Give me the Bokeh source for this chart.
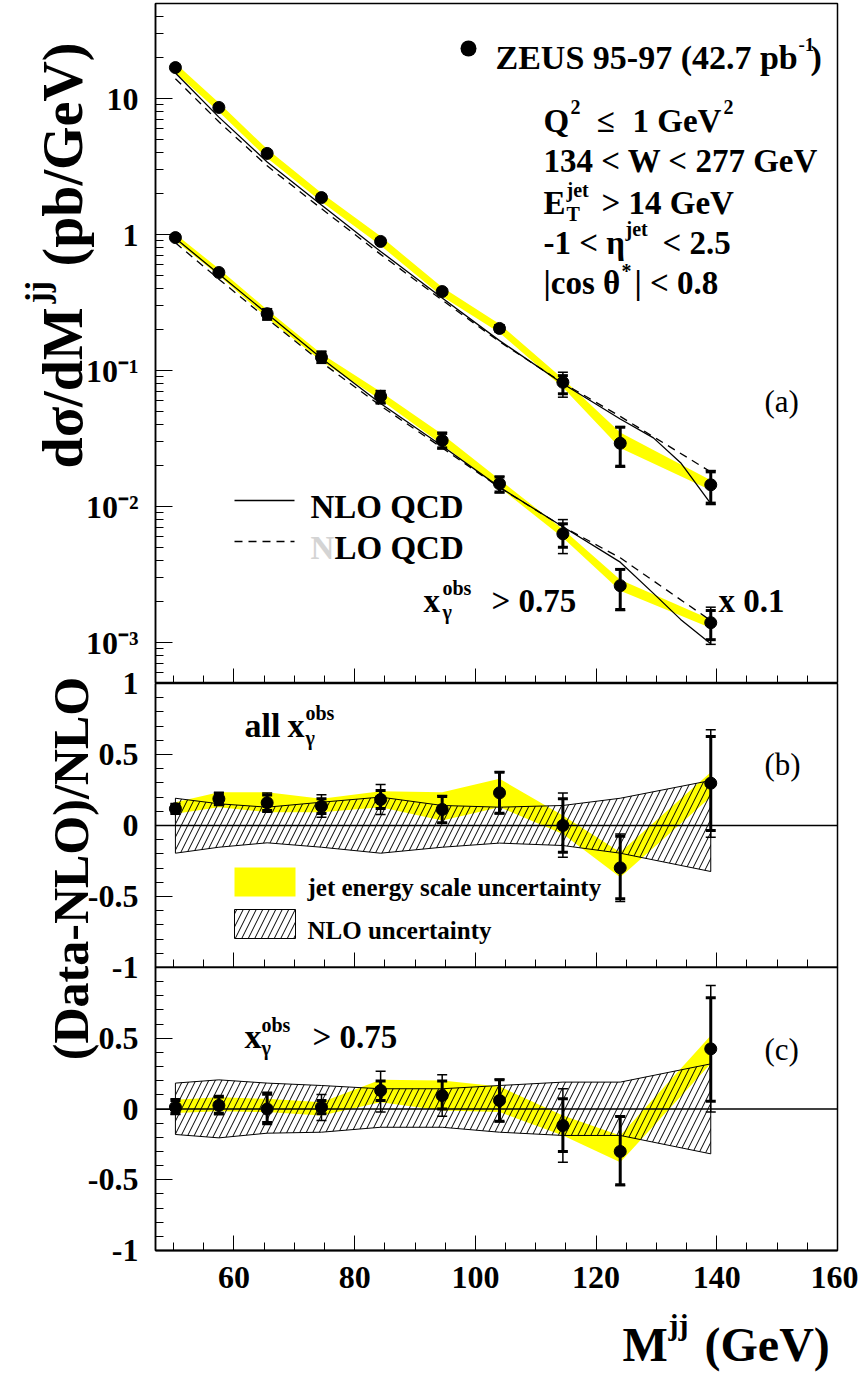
import math
from bokeh.plotting import figure
from bokeh.models import Range1d, FixedTicker, Label, Span, BoxAnnotation, Arrow
from bokeh.layouts import column
from bokeh.embed import file_html
from bokeh.resources import INLINE

# ---------------- data ----------------
mjj = [50.3, 57.5, 65.5, 74.5, 84.3, 94.5, 104.0, 114.5, 124.0, 139.0]

# (a) all x_gamma^obs  [pb/GeV]
sig_all     = [16.9, 8.6, 3.95, 1.87, 0.89, 0.381, 0.204, 0.082, 0.0292, 0.01445]
sig_all_slo = [16.5, 8.35, 3.83, 1.81, 0.86, 0.365, 0.195, 0.0675, 0.0198, 0.0106]
sig_all_shi = [17.3, 8.85, 4.07, 1.93, 0.92, 0.397, 0.214, 0.0918, 0.0383, 0.0180]
sig_all_tlo = [16.4, 8.3, 3.80, 1.80, 0.855, 0.362, 0.193, 0.0637, 0.0195, 0.01035]
sig_all_thi = [17.4, 8.9, 4.10, 1.94, 0.925, 0.400, 0.217, 0.0972, 0.0387, 0.0184]
jes_all_lo  = [15.5, 8.0, 3.65, 1.74, 0.83, 0.350, 0.190, 0.075, 0.027, 0.0132]
jes_all_hi  = [18.2, 9.3, 4.25, 2.02, 0.97, 0.410, 0.220, 0.087, 0.035, 0.0156]

# (a) x_gamma^obs > 0.75  (x 0.1)
sig_dir     = [0.95, 0.526, 0.262, 0.125, 0.0647, 0.0306, 0.0147, 0.0063, 0.00262, 0.0014]
sig_dir_slo = [0.925, 0.51, 0.240, 0.115, 0.058, 0.0270, 0.0128, 0.00502, 0.00175, 0.00105]
sig_dir_shi = [0.975, 0.543, 0.280, 0.136, 0.070, 0.0345, 0.0165, 0.00747, 0.00345, 0.00172]
sig_dir_tlo = [0.92, 0.505, 0.235, 0.113, 0.057, 0.0265, 0.0126, 0.00451, 0.00172, 0.00097]
sig_dir_thi = [0.98, 0.548, 0.285, 0.139, 0.0713, 0.0352, 0.0167, 0.00802, 0.00348, 0.00182]
jes_dir_lo  = [0.90, 0.50, 0.245, 0.117, 0.061, 0.0285, 0.0138, 0.0059, 0.0024, 0.00128]
jes_dir_hi  = [1.01, 0.56, 0.280, 0.133, 0.070, 0.0340, 0.0158, 0.0068, 0.0029, 0.00148]

# NLO QCD curves (solid) and second curve (dashed)
mjj_nlo = [50.3, 57.5, 65.5, 74.5, 84.3, 94.5, 104.0, 114.5, 124.0, 129.5, 134.0, 139.0]
nlo_all = [15.4, 7.3, 3.42, 1.65, 0.752, 0.342, 0.166, 0.080, 0.044, 0.032, 0.021, 0.0105]
nlo_dir = [0.938, 0.513, 0.262, 0.123, 0.0572, 0.0279, 0.0139, 0.0071, 0.0039, 0.0023, 0.00148, 0.00098]
alt_all = [14.0, 6.75, 3.2, 1.55, 0.715, 0.33, 0.163, 0.081, 0.046, 0.018]
alt_dir = [0.87, 0.47, 0.24, 0.115, 0.055, 0.027, 0.0138, 0.0071, 0.0042, 0.00145]

# (b) (Data-NLO)/NLO, all x_gamma^obs
rb     = [0.118, 0.188, 0.160, 0.136, 0.183, 0.113, 0.230, 0.0, -0.298, 0.298]
rb_slo = [0.09, 0.15, 0.105, 0.085, 0.12, 0.02, 0.087, -0.188, -0.516, -0.035]
rb_shi = [0.145, 0.226, 0.215, 0.188, 0.246, 0.205, 0.375, 0.188, -0.075, 0.627]
rb_tlo = [0.08, 0.141, 0.094, 0.058, 0.077, 0.016, 0.083, -0.223, -0.535, -0.082]
rb_thi = [0.155, 0.235, 0.228, 0.216, 0.289, 0.211, 0.378, 0.228, -0.059, 0.674]
rb_jlo = [0.082, 0.129, 0.094, 0.094, 0.129, 0.035, 0.129, -0.059, -0.364, 0.200]
rb_jhi = [0.164, 0.235, 0.235, 0.188, 0.242, 0.235, 0.329, 0.070, -0.188, 0.375]
rb_nlo_lo = [-0.195, -0.153, -0.122, -0.153, -0.195, -0.153, -0.124, -0.141, -0.195, -0.324]
rb_nlo_hi = [0.192, 0.153, 0.129, 0.164, 0.200, 0.141, 0.129, 0.141, 0.192, 0.317]

# (c) (Data-NLO)/NLO, x_gamma^obs > 0.75
rc     = [0.013, 0.025, 0.0, 0.013, 0.131, 0.095, 0.060, -0.117, -0.300, 0.425]
rc_slo = [-0.03, -0.03, -0.095, -0.034, 0.06, 0.0, -0.086, -0.30, -0.536, 0.055]
rc_shi = [0.06, 0.085, 0.105, 0.06, 0.197, 0.197, 0.206, 0.072, -0.053, 0.786]
rc_tlo = [-0.039, -0.041, -0.11, -0.081, -0.022, -0.051, -0.09, -0.376, -0.54, -0.022]
rc_thi = [0.072, 0.095, 0.119, 0.102, 0.267, 0.242, 0.21, 0.143, -0.05, 0.873]
rc_jlo = [-0.029, -0.016, -0.022, -0.046, 0.048, -0.011, -0.022, -0.187, -0.376, 0.319]
rc_jhi = [0.065, 0.083, 0.072, 0.048, 0.206, 0.201, 0.159, -0.046, -0.187, 0.519]
rc_nlo_lo = [-0.18, -0.204, -0.171, -0.164, -0.129, -0.129, -0.164, -0.187, -0.187, -0.317]
rc_nlo_hi = [0.183, 0.206, 0.183, 0.166, 0.143, 0.143, 0.166, 0.19, 0.19, 0.319]

# tick labels
x_ticks = [60, 80, 100, 120, 140, 160]
ya_ticks = [10, 1, 0.1, 0.01, 0.001]
ya_labels = ["10", "1", "10\u207b\u00b9", "10\u207b\u00b2", "10\u207b\u00b3"]
rb_ticks = [-1, -0.5, 0, 0.5, 1]
rb_labels = ["-1", "-0.5", "0", "0.5", "1"]
rc_ticks = [-1, -0.5, 0, 0.5]
rc_labels = ["-1", "-0.5", "0", "0.5"]

# ---------------- layout geometry (page pixels) ----------------
PAGE_W, PAGE_H = 862, 1380
FL, FR = 155, 837
AT, AB = 3, 683
BT, BB = 683, 967
CT, CB = 967, 1250
XMIN, XMAX = 47.0, 160.0
YA_MIN, YA_MAX = 5e-4, 50.0
LA_BOT, LA_TOP = math.log10(YA_MIN), math.log10(YA_MAX)
FONT = "Liberation Serif"
YELLOW = "#ffff00"
DASH = "8 6"
BPAD = 24      # extra canvas above/below panel (b) for its edge tick labels
CBOT = PAGE_H - CB


def xd(px):
    return XMIN + (px - FL) * (XMAX - XMIN) / (FR - FL)


def ya(py):
    return 10 ** (LA_TOP - (py - AT) * (LA_TOP - LA_BOT) / (AB - AT))


def yb(py):
    return 1 - (py - BT) * 2.0 / (BB - BT)


def yc(py):
    return 1 - (py - CT) * 2.0 / (CB - CT)


def yo(py):          # text layer: plain page pixels, y measured upward
    return PAGE_H - py


def ident(px):
    return px


def lab(fig, text, px, py, yconv, size, bold=True, align="left", angle=0.0,
        color="black", xconv=xd):
    fig.add_layout(Label(x=xconv(px), y=yconv(py), text=text, text_font=FONT,
                         text_font_style="bold" if bold else "normal",
                         text_font_size=f"{size}px", text_align=align,
                         text_baseline="alphabetic", angle=angle, text_color=color))


xr = Range1d(XMIN, XMAX)
x_minor = [v for v in range(50, 160, 5) if v not in x_ticks]


def make_fig(**kw):
    p = figure(x_range=xr, output_backend="svg", toolbar_location=None,
               frame_width=FR - FL, min_border_left=FL, min_border_right=21, **kw)
    p.grid.visible = False
    p.outline_line_color = "black"
    p.outline_line_width = 1.5
    p.background_fill_color = "white"
    for ax in list(p.xaxis) + list(p.yaxis):
        ax.major_tick_out = 0
        ax.minor_tick_out = 0
        ax.axis_line_color = "black"
        ax.major_tick_line_color = "black"
        ax.minor_tick_line_color = "black"
        ax.major_tick_line_width = 1
        ax.minor_tick_line_width = 1
        ax.major_label_text_font = FONT
        ax.major_label_text_font_style = "bold"
        ax.major_label_text_font_size = "32px"
        ax.major_label_text_color = "black"
    for ax in p.xaxis:
        ax.ticker = FixedTicker(ticks=x_ticks, minor_ticks=x_minor)
        ax.major_tick_in = 15
        ax.minor_tick_in = 8
        ax.axis_line_width = 2
    for ax in p.yaxis:
        ax.major_tick_in = 17
        ax.minor_tick_in = 8
        ax.axis_line_width = 1.5
        ax.major_label_standoff = 17
    return p


def hide_labels(axes):
    for ax in axes:
        ax.major_label_text_font_size = "1px"
        ax.major_label_text_color = None
        ax.major_label_standoff = 0


def errors(p, y, slo, shi, tlo, thi, size=12):
    p.segment(x0=mjj, y0=tlo, x1=mjj, y1=thi, line_color="black", line_width=1.5)
    p.scatter(x=mjj, y=tlo, marker="dash", size=10, line_color="black", line_width=1.5)
    p.scatter(x=mjj, y=thi, marker="dash", size=10, line_color="black", line_width=1.5)
    p.segment(x0=mjj, y0=slo, x1=mjj, y1=shi, line_color="black", line_width=3)
    p.scatter(x=mjj, y=slo, marker="dash", size=10, line_color="black", line_width=3)
    p.scatter(x=mjj, y=shi, marker="dash", size=10, line_color="black", line_width=3)
    p.scatter(x=mjj, y=y, marker="circle", size=size, fill_color="black", line_color="black")


# ---------------- transparent text layer (page pixels) for the axis titles ----------------
ov = figure(frame_width=PAGE_W, frame_height=PAGE_H, x_range=Range1d(0, PAGE_W),
            y_range=Range1d(0, PAGE_H), output_backend="svg", toolbar_location=None,
            title=None, min_border=0, min_border_left=0, min_border_right=0,
            min_border_top=0, min_border_bottom=0,
            x_axis_location=None, y_axis_location=None,
            margin=(0, 0, -PAGE_H, 0), border_fill_color=None,
            background_fill_color=None, outline_line_color=None)
ov.grid.visible = False
if "frame_align" in ov.properties():
    ov.frame_align = False

UP = math.pi / 2
lab(ov, "dσ/dM", 62, 468, yo, 56, angle=UP, xconv=ident)
lab(ov, "jj", 37, 303, yo, 34, angle=UP, xconv=ident)
lab(ov, "(pb/GeV)", 62, 266, yo, 56, angle=UP, xconv=ident)
lab(ov, "(Data-NLO)/NLO", 70, 868, yo, 50, angle=UP, align="center", xconv=ident)
lab(ov, "M", 622, 1344, yo, 48, xconv=ident)
lab(ov, "jj", 668, 1324, yo, 30, xconv=ident)
lab(ov, "(GeV)", 704, 1344, yo, 48, xconv=ident)

# ---------------- panel (a) ----------------
pa = make_fig(y_range=Range1d(YA_MIN, YA_MAX), y_axis_type="log",
              frame_height=AB - AT, min_border_top=AT, min_border_bottom=0,
              border_fill_color=None)
hide_labels(pa.xaxis)
ya_minor = [m * 10 ** e for e in range(-4, 2) for m in range(2, 10)
            if YA_MIN < m * 10 ** e < YA_MAX]
pa.yaxis.ticker = FixedTicker(ticks=ya_ticks, minor_ticks=ya_minor)
pa.yaxis.major_label_overrides = dict(zip(ya_ticks, ya_labels))

pa.varea(x=mjj, y1=jes_all_lo, y2=jes_all_hi, fill_color=YELLOW)
pa.varea(x=mjj, y1=jes_dir_lo, y2=jes_dir_hi, fill_color=YELLOW)
pa.line(mjj_nlo, nlo_all, line_color="black", line_width=1.3)
pa.line(mjj_nlo, nlo_dir, line_color="black", line_width=1.3)
pa.line(mjj, alt_all, line_color="black", line_width=1.3, line_dash=DASH)
pa.line(mjj, alt_dir, line_color="black", line_width=1.3, line_dash=DASH)
errors(pa, sig_all, sig_all_slo, sig_all_shi, sig_all_tlo, sig_all_thi)
errors(pa, sig_dir, sig_dir_slo, sig_dir_shi, sig_dir_tlo, sig_dir_thi)

# legend / info text (a)
pa.add_layout(BoxAnnotation(left=xd(460), right=xd(476), top=ya(40), bottom=ya(56),
                            fill_color="black", fill_alpha=1, line_color=None,
                            border_radius=8))
lab(pa, "ZEUS 95-97 (42.7 pb", 495, 57, ya, 34)
lab(pa, "-1", 798, 44, ya, 19)
lab(pa, ")", 810, 57, ya, 34)
lab(pa, "Q", 543, 120, ya, 33)
lab(pa, "2", 570, 106, ya, 20)
lab(pa, "≤", 596, 120, ya, 33)
lab(pa, "1 GeV", 632, 120, ya, 33)
lab(pa, "2", 723, 106, ya, 20)
lab(pa, "134 < W < 277 GeV", 543, 160, ya, 33)
lab(pa, "E", 543, 202, ya, 33)
lab(pa, "jet", 566, 189, ya, 20)
lab(pa, "T", 566, 213, ya, 20)
lab(pa, "> 14 GeV", 601, 202, ya, 33)
lab(pa, "-1 < η", 543, 242, ya, 33)
lab(pa, "jet", 625, 228, ya, 20)
lab(pa, "<  2.5", 662, 242, ya, 33)
lab(pa, "|cos θ", 543, 282, ya, 33)
lab(pa, "*", 621, 270, ya, 20)
lab(pa, "| < 0.8", 634, 282, ya, 33)
lab(pa, "(a)", 764, 401, ya, 31, bold=False)

pa.add_layout(Arrow(end=None, x_start=xd(234), y_start=ya(500), x_end=xd(294), y_end=ya(500),
                    line_color="black", line_width=1.5))
lab(pa, "NLO QCD", 310, 506, ya, 33)
pa.add_layout(Arrow(end=None, x_start=xd(234), y_start=ya(541), x_end=xd(294), y_end=ya(541),
                    line_color="black", line_width=1.5, line_dash=DASH))
lab(pa, "N", 310, 547, ya, 33, color="#d4d4d4")
lab(pa, "LO QCD", 334, 547, ya, 33)

lab(pa, "x", 423, 600, ya, 33)
lab(pa, "obs", 442, 587, ya, 20)
lab(pa, "γ", 442, 611, ya, 20)
lab(pa, "> 0.75", 491, 600, ya, 33)
lab(pa, "x 0.1", 718, 600, ya, 33)

# ---------------- panel (b) ----------------
pb = make_fig(y_range=Range1d(-1, 1), frame_height=BB - BT, min_border_top=BPAD,
              min_border_bottom=BPAD, margin=(-BPAD, 0, 0, 0), border_fill_color=None)
hide_labels(pb.xaxis)
r_minor = [round(-1 + 0.1 * i, 1) for i in range(21)]


def ratio_axes(p, ticks, labels):
    p.yaxis.ticker = FixedTicker(ticks=ticks, minor_ticks=r_minor)
    p.yaxis.major_label_overrides = dict(zip(ticks, labels))


def ratio_panel(p, r, slo, shi, tlo, thi, jlo, jhi, nlo_lo, nlo_hi):
    p.varea(x=mjj, y1=jlo, y2=jhi, fill_color=YELLOW)
    p.patch(x=mjj + mjj[::-1], y=nlo_hi + nlo_lo[::-1], fill_color=None,
            hatch_pattern="/", hatch_color="black", hatch_scale=13, hatch_weight=1,
            line_color="black", line_width=1)
    p.add_layout(Span(location=0, dimension="width", line_color="black", line_width=1.5))
    errors(p, r, slo, shi, tlo, thi)


ratio_axes(pb, rb_ticks, rb_labels)
ratio_panel(pb, rb, rb_slo, rb_shi, rb_tlo, rb_thi, rb_jlo, rb_jhi, rb_nlo_lo, rb_nlo_hi)
lab(pb, "all", 244, 725, yb, 34)
lab(pb, "x", 287, 725, yb, 34)
lab(pb, "obs", 305, 712, yb, 20)
lab(pb, "γ", 305, 737, yb, 20)
lab(pb, "(b)", 764, 764, yb, 31, bold=False)
pb.add_layout(BoxAnnotation(left=xd(234), right=xd(295), top=yb(867), bottom=yb(896),
                            fill_color=YELLOW, fill_alpha=1, line_color=None))
lab(pb, "jet energy scale uncertainty", 307, 887, yb, 25)
pb.add_layout(BoxAnnotation(left=xd(234), right=xd(295), top=yb(909), bottom=yb(938),
                            fill_color=None, fill_alpha=0, hatch_pattern="/",
                            hatch_color="black", hatch_scale=13, hatch_weight=1,
                            line_color="black", line_alpha=1, line_width=1))
lab(pb, "NLO uncertainty", 307, 930, yb, 25)

# ---------------- panel (c) ----------------
pc = make_fig(y_range=Range1d(-1, 1), frame_height=CB - CT, min_border_top=BPAD,
              min_border_bottom=CBOT, margin=(-2 * BPAD, 0, 0, 0),
              border_fill_color=None)
pc.xaxis.major_label_standoff = 16
ratio_axes(pc, rc_ticks, rc_labels)
ratio_panel(pc, rc, rc_slo, rc_shi, rc_tlo, rc_thi, rc_jlo, rc_jhi, rc_nlo_lo, rc_nlo_hi)
lab(pc, "x", 244, 1036, yc, 34)
lab(pc, "obs", 261, 1024, yc, 20)
lab(pc, "γ", 261, 1047, yc, 20)
lab(pc, "> 0.75", 312, 1036, yc, 33)
lab(pc, "(c)", 764, 1049, yc, 31, bold=False)

# text layer first (at the very top of the page), the three panels drawn over it
layout = column(ov, pa, pb, pc)
open("out.html", "w").write(file_html(layout, INLINE))
